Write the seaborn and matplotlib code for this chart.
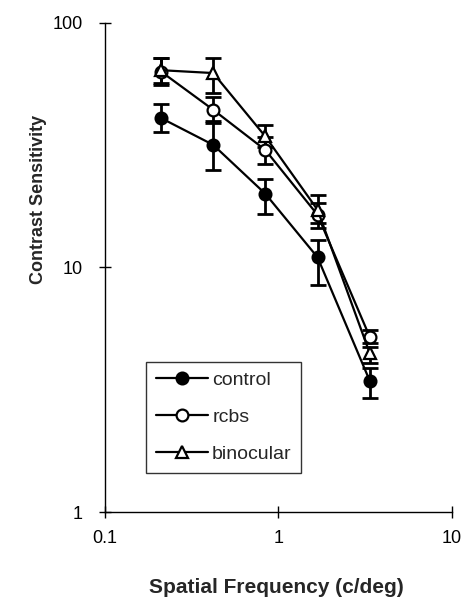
import matplotlib
matplotlib.use("Agg")
import matplotlib.pyplot as plt
import pandas as pd
import seaborn as sns

# dati
freq = [0.21, 0.42, 0.84, 1.68, 3.36]
control = [40.8, 31.7, 20.0, 11.0, 3.44]
control_lo = [35.9, 25.0, 16.5, 8.5, 2.94]
control_hi = [46.6, 38.9, 22.9, 13.0, 3.87]
rcbs = [63.2, 44.1, 30.2, 16.4, 5.2]
rcbs_lo = [55.8, 39.5, 26.5, 14.5, 4.9]
rcbs_hi = [71.6, 49.7, 34.0, 18.3, 5.55]
binocular = [64.0, 62.3, 34.3, 17.2, 4.46]
binocular_lo = [56.5, 51.6, 31.2, 15.2, 4.06]
binocular_hi = [71.6, 71.6, 38.3, 19.8, 4.74]

series = {
    "control": (control, control_lo, control_hi, "o", "black"),
    "rcbs": (rcbs, rcbs_lo, rcbs_hi, "o", "white"),
    "binocular": (binocular, binocular_lo, binocular_hi, "^", "white"),
}

rows = []
for name, (vals, lo, hi, m, fc) in series.items():
    for f, v in zip(freq, vals):
        rows.append({"freq": f, "cs": v, "group": name})
df = pd.DataFrame(rows)

sns.set_style("ticks")
plt.rcParams['font.family'] = ['Liberation Sans', 'DejaVu Sans']

fig = plt.figure(figsize=(4.63, 5.99), dpi=100)
ax = fig.add_axes([0.227, 0.145, 0.749, 0.817])

for name, (vals, lo, hi, m, fc) in series.items():
    yerr = [[v - l for v, l in zip(vals, lo)], [h - v for v, h in zip(vals, hi)]]
    ax.errorbar(freq, vals, yerr=yerr, fmt="none", ecolor="black",
                elinewidth=2, capsize=5.5, capthick=2, zorder=2)
    sub = df[df["group"] == name]
    sns.lineplot(data=sub, x="freq", y="cs", ax=ax, color="black", lw=1.6,
                 marker=m, markersize=8.5 if m == "o" else 9,
                 markerfacecolor=fc, markeredgecolor="black",
                 markeredgewidth=1.6, label=name, zorder=3)

ax.set_xscale("log")
ax.set_yscale("log")
ax.set_xlim(0.1, 10)
ax.set_ylim(1, 100)
ax.set_xticks([0.1, 1, 10])
ax.set_xticklabels(["0.1", "1", "10"])
ax.set_yticks([1, 10, 100])
ax.set_yticklabels(["1", "10", "100"])
ax.minorticks_off()
ax.tick_params(axis="both", direction="inout", length=8, width=1,
               labelsize=13, colors="black")
ax.tick_params(axis="y", pad=12)
ax.tick_params(axis="x", pad=9)

for s in ["top", "right"]:
    ax.spines[s].set_visible(False)
for s in ["left", "bottom"]:
    ax.spines[s].set_color("black")
    ax.spines[s].set_linewidth(1)

ax.set_xlabel("Spatial Frequency (c/deg)", fontsize=15, fontweight="bold", va="center")
ax.set_ylabel("Contrast Sensitivity", fontsize=13, fontweight="bold", va="center")
ax.xaxis.set_label_coords(0.493, -0.155)
ax.yaxis.set_label_coords(-0.193, 0.638)

leg = ax.legend(loc="lower left", bbox_to_anchor=(0.118, 0.08), borderaxespad=0,
                frameon=True, fancybox=False, edgecolor="black", fontsize=14,
                handlelength=2.7, handletextpad=0.2, borderpad=0.5,
                labelspacing=1.0)
leg.get_frame().set_linewidth(1)

fig.savefig("out.png", dpi=100, facecolor="white")
